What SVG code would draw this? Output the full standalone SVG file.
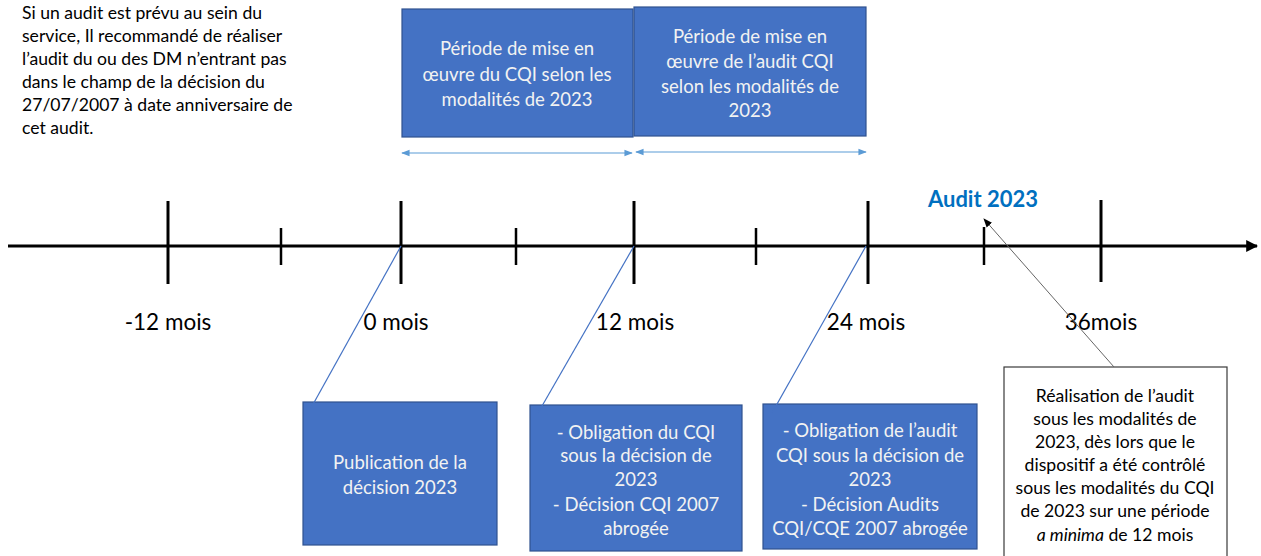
<svg xmlns="http://www.w3.org/2000/svg" width="1261" height="556" viewBox="0 0 1261 556">
  <defs>
    <marker id="axisHead" viewBox="0 0 10 10" refX="9" refY="5" markerWidth="4" markerHeight="4" orient="auto">
      <path d="M0,0 L10,5 L0,10 z" fill="#000"/>
    </marker>
    <marker id="spanHead" viewBox="0 0 10 10" refX="9" refY="5" markerWidth="7" markerHeight="7" orient="auto-start-reverse">
      <path d="M0,1 L10,5 L0,9 z" fill="#5B9BD5"/>
    </marker>
    <marker id="pointHead" viewBox="0 0 10 10" refX="9" refY="5" markerWidth="9" markerHeight="9" orient="auto">
      <path d="M0,1 L10,5 L0,9 z" fill="#000"/>
    </marker>
  </defs>
  <style>
    text { font-family: Lato, "Open Sans", "Liberation Sans", sans-serif; }
    .box { fill: #4472C4; stroke: #2F528F; stroke-width: 1.2; }
    .note { fill: #fff; stroke: #3a3a3a; stroke-width: 1.2; }
    .wt { fill: #F2F2F2; font-size: 18.5px; text-anchor: middle; }
    .bt { fill: #000; font-size: 17.6px; text-anchor: middle; }
    .lt { fill: #000; font-size: 17.6px; }
    .axl { fill: #000; font-size: 22.5px; text-anchor: middle; }
    .major { stroke: #000; stroke-width: 3; }
    .minor { stroke: #000; stroke-width: 2.5; }
    .lead { stroke: #4472C4; stroke-width: 1.2; fill: none; }
    .span { stroke: #5B9BD5; stroke-width: 1.2; fill: none; }
  </style>

  <!-- introductory note -->
  <g id="intro">
    <text class="lt" x="22" y="19">Si un audit est prévu au sein du</text>
    <text class="lt" x="22" y="42">service, Il recommandé de réaliser</text>
    <text class="lt" x="22" y="65">l’audit du ou des DM n’entrant pas</text>
    <text class="lt" x="22" y="88">dans le champ de la décision du</text>
    <text class="lt" x="22" y="111">27/07/2007 à date anniversaire de</text>
    <text class="lt" x="22" y="134">cet audit.</text>
  </g>

  <!-- timeline axis -->
  <g id="axis">
    <line x1="8" y1="246" x2="1257" y2="246" stroke="#000" stroke-width="3" marker-end="url(#axisHead)"/>
    <line class="major" x1="168" y1="201" x2="168" y2="284"/>
    <line class="major" x1="401" y1="201" x2="401" y2="284"/>
    <line class="major" x1="634" y1="201" x2="634" y2="284"/>
    <line class="major" x1="868" y1="201" x2="868" y2="284"/>
    <line class="major" x1="1101" y1="200" x2="1101" y2="282"/>
    <line class="minor" x1="281" y1="228" x2="281" y2="265"/>
    <line class="minor" x1="516" y1="228" x2="516" y2="265"/>
    <line class="minor" x1="756" y1="228" x2="756" y2="265"/>
    <line class="minor" x1="984" y1="227" x2="984" y2="265"/>
    <text class="axl" x="168" y="330">-12 mois</text>
    <text class="axl" x="396" y="330">0 mois</text>
    <text class="axl" x="635" y="330">12 mois</text>
    <text class="axl" x="866" y="330">24 mois</text>
    <text class="axl" x="1101" y="330">36mois</text>
    <text x="983" y="207" fill="#0070C0" font-size="22px" font-weight="bold" text-anchor="middle">Audit 2023</text>
  </g>

  <!-- implementation periods -->
  <g id="period-cqi">
    <rect class="box" x="402" y="9" width="231" height="128"/>
    <text class="wt" x="517" y="55">Période de mise en</text>
    <text class="wt" x="517" y="81">œuvre du CQI selon les</text>
    <text class="wt" x="517" y="106">modalités de 2023</text>
  </g>
  <g id="period-audit">
    <rect class="box" x="634" y="7" width="232" height="129"/>
    <text class="wt" x="750" y="43">Période de mise en</text>
    <text class="wt" x="750" y="68">œuvre de l’audit CQI</text>
    <text class="wt" x="750" y="93">selon les modalités de</text>
    <text class="wt" x="750" y="117">2023</text>
  </g>

  <!-- milestone boxes -->
  <g id="publication">
    <rect class="box" x="303" y="402" width="194" height="143"/>
    <text class="wt" x="400" y="469">Publication de la</text>
    <text class="wt" x="400" y="494">décision 2023</text>
  </g>
  <g id="obligation-cqi">
    <rect class="box" x="530" y="405" width="212" height="146"/>
    <text class="wt" x="636" y="439">- Obligation du CQI</text>
    <text class="wt" x="636" y="462">sous la décision de</text>
    <text class="wt" x="636" y="486">2023</text>
    <text class="wt" x="636" y="511">- Décision CQI 2007</text>
    <text class="wt" x="636" y="535">abrogée</text>
  </g>
  <g id="obligation-audit">
    <rect class="box" x="763" y="404" width="214" height="145"/>
    <text class="wt" x="870" y="437">- Obligation de l’audit</text>
    <text class="wt" x="870" y="462">CQI sous la décision de</text>
    <text class="wt" x="870" y="486">2023</text>
    <text class="wt" x="870" y="511">- Décision Audits</text>
    <text class="wt" x="870" y="535">CQI/CQE 2007 abrogée</text>
  </g>
  <g id="audit-note">
    <rect class="note" x="1004" y="367" width="223" height="195"/>
    <text class="bt" x="1115" y="402">Réalisation de l’audit</text>
    <text class="bt" x="1115" y="425">sous les modalités de</text>
    <text class="bt" x="1115" y="448">2023, dès lors que le</text>
    <text class="bt" x="1115" y="471">dispositif a été contrôlé</text>
    <text class="bt" x="1115" y="494">sous les modalités du CQI</text>
    <text class="bt" x="1115" y="517">de 2023 sur une période</text>
    <text class="bt" x="1115" y="541"><tspan font-style="italic">a minima</tspan> de 12 mois</text>
  </g>

  <!-- connectors -->
  <g id="connectors">
    <line class="span" x1="402" y1="153" x2="632" y2="153" marker-start="url(#spanHead)" marker-end="url(#spanHead)"/>
    <line class="span" x1="636" y1="152" x2="866" y2="152" marker-start="url(#spanHead)" marker-end="url(#spanHead)"/>
    <line class="lead" x1="401" y1="246" x2="311" y2="408"/>
    <line class="lead" x1="634" y1="246" x2="538" y2="413"/>
    <line class="lead" x1="866" y1="246" x2="772" y2="413"/>
    <line x1="1114" y1="367" x2="984" y2="219" stroke="#666" stroke-width="1" marker-end="url(#pointHead)"/>
  </g>
</svg>
